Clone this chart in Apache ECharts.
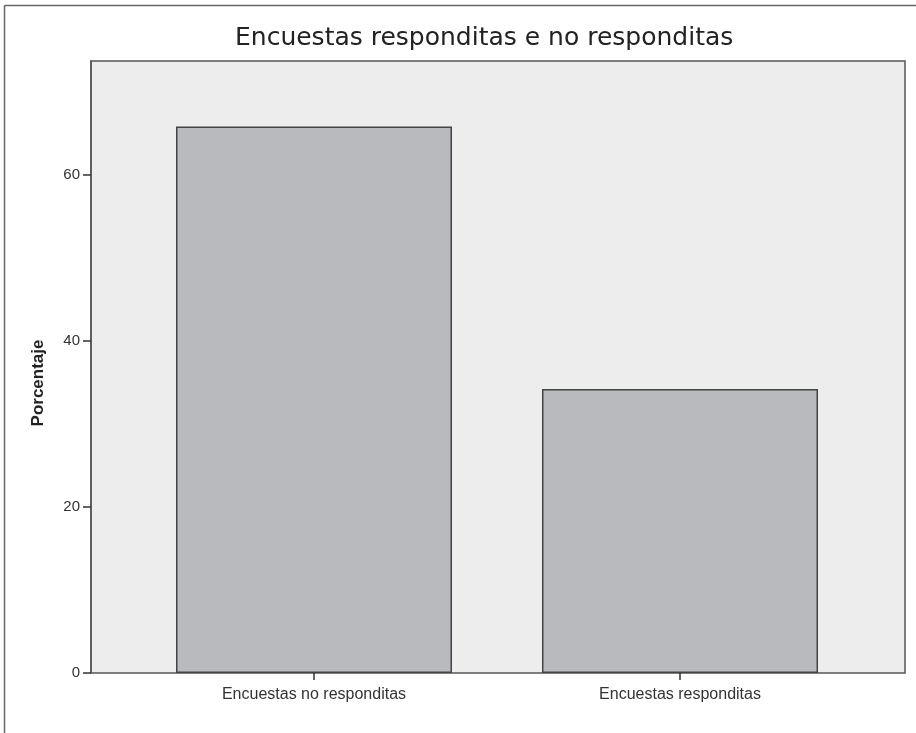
<!DOCTYPE html>
<html>
<head>
<meta charset="utf-8">
<script src="https://cdn.jsdelivr.net/npm/echarts@6/dist/echarts.min.js"></script>
<style>html,body{margin:0;padding:0;background:#fff;}#c{width:916px;height:733px;}</style>
</head>
<body>
<div id="c"></div>
<script>
const categories = ["Encuestas no responditas", "Encuestas responditas"];
const percentages = [65.8, 34.2];
const yTicks = [0, 20, 40, 60];
const titleText = "Encuestas responditas e no responditas";
const yName = "Porcentaje";

const chart = echarts.init(document.getElementById('c'), null, {renderer: 'canvas'});
chart.setOption({
  animation: false,
  backgroundColor: '#ffffff',
  title: {
    text: titleText, left: 230, top: 21,
    textStyle: {fontFamily: 'DejaVu Sans', fontSize: 25, fontWeight: 'normal', color: '#222'}
  },
  graphic: [
    {type: 'line', shape: {x1: 4.5, y1: 5.5, x2: 916, y2: 5.5}, style: {stroke: '#666', lineWidth: 1.5}},
    {type: 'line', shape: {x1: 4.5, y1: 5.5, x2: 4.5, y2: 733}, style: {stroke: '#666', lineWidth: 1.5}}
  ],
  grid: [
    {left: 91, top: 61, width: 814, height: 612, show: true, backgroundColor: '#ededed', borderColor: '#555', borderWidth: 1.5},
    {left: 131, top: 61, width: 732, height: 612, show: false}
  ],
  xAxis: [
    {gridIndex: 0, type: 'value', show: false, min: 0, max: 1},
    {gridIndex: 1, type: 'category', data: categories,
     axisLine: {show: false},
     axisTick: {show: true, alignWithLabel: true, length: 7, lineStyle: {color: '#333', width: 1.5}},
     axisLabel: {fontFamily: 'Liberation Sans', fontSize: 16, color: '#333', margin: 14}}
  ],
  yAxis: [
    {gridIndex: 0, type: 'value', show: false, min: 0, max: 1},
    {gridIndex: 1, type: 'value', min: 0, max: 73.7, interval: 20, offset: 40,
     name: yName, nameLocation: 'middle', nameGap: 44,
     nameTextStyle: {fontFamily: 'Liberation Sans', fontSize: 17, fontWeight: 'bold', color: '#222', padding: [0, 0, 0, -32]},
     axisLine: {show: true, lineStyle: {color: '#555', width: 1.5}},
     axisTick: {show: true, length: 8, lineStyle: {color: '#333', width: 1.5}},
     axisLabel: {fontFamily: 'Liberation Sans', fontSize: 15, color: '#333', margin: 11, showMaxLabel: false},
     splitLine: {show: false}}
  ],
  series: [{
    type: 'bar', xAxisIndex: 1, yAxisIndex: 1,
    data: percentages, barWidth: 276,
    itemStyle: {color: '#b9babe', borderColor: '#444', borderWidth: 1.5}
  }]
});
</script>
</body>
</html>
